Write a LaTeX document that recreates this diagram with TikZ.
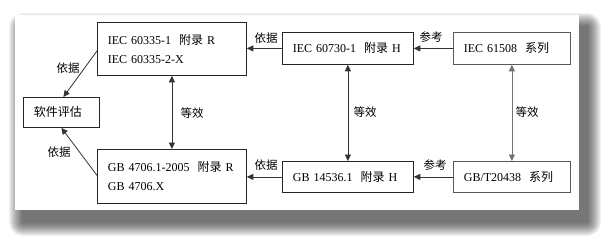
\documentclass[tikz,border=0pt]{standalone}
\usepackage{fontspec}
\setmainfont{Liberation Serif}
\newfontfamily\cjk{Noto Sans CJK SC}
\usetikzlibrary{arrows.meta}
\begin{document}
\begin{tikzpicture}[x=1pt,y=-1pt,
  box/.style={draw=black!85, line width=0.8pt, inner xsep=10.5pt, inner ysep=0pt,
    align=left, anchor=north west, font=\fontsize{12}{19}\selectfont},
  lbl/.style={font=\cjk\fontsize{11.5}{14}\selectfont, inner sep=0pt},
  arr/.style={draw=black!80, line width=0.8pt, -{Triangle[length=6.5pt,width=6pt]}},
  darr/.style={draw=black!80, line width=0.8pt, {Triangle[length=6.5pt,width=6pt]}-{Triangle[length=6.5pt,width=6pt]}}]
\useasboundingbox (0,0) rectangle (616,247);
\fill[white] (0,0) rectangle (616,247);
% soft page shadow
\foreach \i in {0,...,13}{
  \fill[black, opacity=0.05, rounded corners={(14-\i)*1pt}]
    ({23-14+\i},{27-14+\i}) rectangle ({587+14-\i},{222+14-\i});
}
\fill[white] (15,15) rectangle (579,210);

\node[box, text width=128pt, minimum height=53pt] (A) at (97,22)
  {\mbox{IEC 60335-1\ \ {\cjk 附录} R}\\\mbox{IEC 60335-2-X}};
\node[box, text width=110pt, minimum height=32pt] (B) at (282,32)
  {\mbox{IEC 60730-1\ \ {\cjk 附录} H}};
\node[box, text width=96pt, minimum height=32pt, draw=black!65] (C) at (453,32)
  {\mbox{IEC 61508\ \ {\cjk 系列}}};
\node[box, text width=55pt, minimum height=30pt, font=\cjk\fontsize{12}{14}\selectfont] (S) at (23,97)
  {软件评估};
\node[box, text width=128pt, minimum height=54pt] (D) at (97,149)
  {\mbox{GB 4706.1-2005\ \ {\cjk 附录} R}\\\mbox{GB 4706.X}};
\node[box, text width=110pt, minimum height=31pt] (E) at (282,161)
  {\mbox{GB 14536.1\ \ {\cjk 附录} H}};
\node[box, text width=96pt, minimum height=31pt, draw=black!65] (F) at (453,161)
  {\mbox{GB/T20438\ \ {\cjk 系列}}};

\draw[arr] (B.west) -- (B.west -| A.east);
\draw[arr] (C.west) -- (C.west -| B.east);
\draw[arr] (E.west) -- (E.west -| D.east);
\draw[arr] (F.west) -- (F.west -| E.east);
\draw[arr] ([yshift=-2pt]A.west) -- ([xshift=2pt]S.north);
\draw[arr] ([yshift=1pt]D.west) -- (S.south);
\draw[darr] (A.south) -- (D.north);
\draw[darr] (B.south) -- (E.north);
\draw[darr, draw=black!55] (C.south) -- (F.north);

\node[lbl] (l1) at (266,38) {依据};
\node[lbl] (l2) at (431,37) {参考};
\node[lbl] (l3) at (68,68) {依据};
\node[lbl] (l4) at (59,152) {依据};
\node[lbl] (l5) at (192,113) {等效};
\node[lbl] (l6) at (365,112) {等效};
\node[lbl] (l7) at (527,112) {等效};
\node[lbl] (l8) at (266,165) {依据};
\node[lbl] (l9) at (435,165) {参考};
\end{tikzpicture}
\end{document}
